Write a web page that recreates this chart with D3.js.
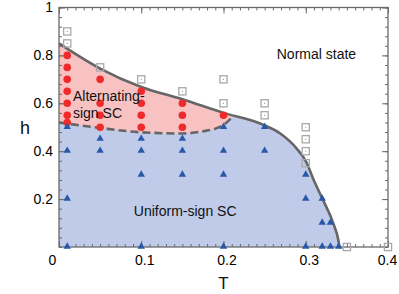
<!DOCTYPE html>
<html>
<head>
<meta charset="utf-8">
<script src="https://cdn.jsdelivr.net/npm/d3@7"></script>
<style>
  body { margin: 0; background: #fff; }
  svg { display: block; font-family: "Liberation Sans", Arial, sans-serif; }
</style>
</head>
<body>
<div id="app"></div>
<script>
`use strict`;

// phase boundaries (T, h)
const outerT = [0, 0.05, 0.1, 0.15, 0.2, 0.248, 0.269, 0.289, 0.301, 0.309, 0.321, 0.3335, 0.3396, 0.341];
const outerH = [0.85, 0.745, 0.668, 0.617, 0.56, 0.511, 0.474, 0.411, 0.352, 0.285, 0.196, 0.099, 0.029, 0];

const dashT = [0, 0.05, 0.1, 0.15, 0.175, 0.19, 0.2, 0.212];
const dashH = [0.52, 0.497, 0.479, 0.474, 0.483, 0.494, 0.51, 0.548];

// simulation points
const alternating = [
  [0.01, 0.8], [0.01, 0.75], [0.01, 0.7], [0.01, 0.65], [0.01, 0.6], [0.01, 0.55], [0.01, 0.52],
  [0.05, 0.7], [0.05, 0.6], [0.05, 0.55], [0.05, 0.5],
  [0.1, 0.65], [0.1, 0.6], [0.1, 0.55], [0.1, 0.5],
  [0.15, 0.6], [0.15, 0.55], [0.15, 0.5],
  [0.2, 0.55]
];

const uniform = [
  [0.01, 0.5], [0.01, 0.4], [0.01, 0.2], [0.01, 0],
  [0.05, 0.45], [0.05, 0.4],
  [0.1, 0.45], [0.1, 0.4], [0.1, 0.3], [0.1, 0],
  [0.15, 0.45], [0.15, 0.4], [0.15, 0.3],
  [0.2, 0.5], [0.2, 0.4], [0.2, 0.3], [0.2, 0],
  [0.25, 0.5], [0.25, 0.4],
  [0.3, 0.3], [0.3, 0.2], [0.3, 0],
  [0.32, 0.2], [0.32, 0.1], [0.32, 0],
  [0.33, 0.1], [0.33, 0],
  [0.34, 0]
];

const normal = [
  [0.01, 0.9], [0.01, 0.85],
  [0.05, 0.75],
  [0.1, 0.7],
  [0.15, 0.65],
  [0.2, 0.7], [0.2, 0.6],
  [0.25, 0.6], [0.25, 0.55],
  [0.3, 0.5], [0.3, 0.45], [0.3, 0.4], [0.3, 0.35],
  [0.35, 0], [0.4, 0]
];

const xTicks = [0, 0.1, 0.2, 0.3, 0.4];
const yTicks = [0.2, 0.4, 0.6, 0.8, 1];

const W = 399, H = 294;
const M = {left: 59, right: 11, top: 7.5, bottom: 47};

let x = d3.scaleLinear().domain([0, 0.4]).range([M.left, W - M.right]);
let y = d3.scaleLinear().domain([0, 1]).range([H - M.bottom, M.top]);

let SVG = d3.select(`#app`).append(`svg`).attr(`width`, W).attr(`height`, H);

let outer = outerT.map((t, i) => [t, outerH[i]]);
let dash = dashT.map((t, i) => [t, dashH[i]]);

let curve = d3.curveMonotoneX;

let scArea = d3.area().x(d => x(d[0])).y0(y(0)).y1(d => y(d[1])).curve(curve);

SVG.append(`clipPath`).attr(`id`, `sc`).append(`path`).attr(`d`, scArea(outer));

// uniform-sign region (whole SC dome)
SVG.append(`path`).attr(`d`, scArea(outer)).attr(`fill`, `#bfcbe8`);

// alternating-sign region: above dashed line, inside dome
SVG.append(`path`)
  .attr(`d`, d3.area().x(d => x(d[0])).y0(y(1)).y1(d => y(d[1])).curve(curve)(dash))
  .attr(`fill`, `#f8c2c3`)
  .attr(`clip-path`, `url(#sc)`);

// axes (ticks point inward on all four sides)
let gAxes = SVG.append(`g`);

let styleAxis = g => {
  g.select(`.domain`).remove();
  g.selectAll(`line`).attr(`stroke`, `#6a6a6a`).attr(`stroke-width`, 1);
  g.selectAll(`text`).attr(`fill`, `#000`).style(`font-size`, `14px`).style(`font-family`, `"Liberation Sans", Arial, sans-serif`);
};

let xMinor = d3.range(0, 0.4001, 0.01);
let yMinor = d3.range(0, 1.0001, 0.04);

gAxes.append(`g`).attr(`transform`, `translate(0,${y(0)})`)
  .call(d3.axisBottom(x).tickValues(xMinor).tickSize(-3).tickFormat(``)).call(styleAxis);
gAxes.append(`g`).attr(`transform`, `translate(0,${y(1)})`)
  .call(d3.axisTop(x).tickValues(xMinor).tickSize(-3).tickFormat(``)).call(styleAxis);
gAxes.append(`g`).attr(`transform`, `translate(${x(0)},0)`)
  .call(d3.axisLeft(y).tickValues(yMinor).tickSize(-3).tickFormat(``)).call(styleAxis);
gAxes.append(`g`).attr(`transform`, `translate(${x(0.4)},0)`)
  .call(d3.axisRight(y).tickValues(yMinor).tickSize(-3).tickFormat(``)).call(styleAxis);

let xAxis = gAxes.append(`g`).attr(`transform`, `translate(0,${y(0)})`)
  .call(d3.axisBottom(x).tickValues(xTicks).tickSize(-6).tickPadding(8).tickFormat(d3.format(`~g`))).call(styleAxis);
xAxis.selectAll(`text`).attr(`dx`, d => d === 0 ? -7 : (d === 0.4 ? -1 : 3));

gAxes.append(`g`).attr(`transform`, `translate(0,${y(1)})`)
  .call(d3.axisTop(x).tickValues(xTicks).tickSize(-6).tickFormat(``)).call(styleAxis);

gAxes.append(`g`).attr(`transform`, `translate(${x(0)},0)`)
  .call(d3.axisLeft(y).tickValues(yTicks).tickSize(-6).tickPadding(6).tickFormat(d3.format(`~g`))).call(styleAxis);
gAxes.append(`g`).attr(`transform`, `translate(${x(0.4)},0)`)
  .call(d3.axisRight(y).tickValues(yTicks).tickSize(-6).tickFormat(``)).call(styleAxis);

SVG.append(`rect`)
  .attr(`x`, x(0)).attr(`y`, y(1)).attr(`width`, x(0.4) - x(0)).attr(`height`, y(0) - y(1))
  .attr(`fill`, `none`).attr(`stroke`, `#6a6a6a`).attr(`stroke-width`, 1.3);

// boundaries
let line = d3.line().x(d => x(d[0])).y(d => y(d[1])).curve(curve);

SVG.append(`path`).attr(`d`, line(dash)).attr(`fill`, `none`)
  .attr(`stroke`, `#666`).attr(`stroke-width`, 2.6).attr(`stroke-dasharray`, `8,4`);

SVG.append(`path`).attr(`d`, line(outer)).attr(`fill`, `none`)
  .attr(`stroke`, `#666`).attr(`stroke-width`, 2.6);

// points
SVG.append(`g`).selectAll(`g`).data(normal).enter().append(`g`)
  .attr(`transform`, d => `translate(${x(d[0])},${y(d[1])})`)
  .each(function () {
    let g = d3.select(this);
    g.append(`rect`).attr(`x`, -3.6).attr(`y`, -3.6).attr(`width`, 7.2).attr(`height`, 7.2)
      .attr(`fill`, `none`).attr(`stroke`, `#a8a8a8`).attr(`stroke-width`, 1.3);
    g.append(`rect`).attr(`x`, -0.5).attr(`y`, -0.5).attr(`width`, 1).attr(`height`, 1).attr(`fill`, `#888`);
  });

SVG.append(`g`).selectAll(`circle`).data(alternating).enter().append(`circle`)
  .attr(`cx`, d => x(d[0])).attr(`cy`, d => y(d[1])).attr(`r`, 3.8).attr(`fill`, `#ee2a2a`);

SVG.append(`g`).selectAll(`path`).data(uniform).enter().append(`path`)
  .attr(`d`, d3.symbol().type(d3.symbolTriangle).size(24))
  .attr(`transform`, d => `translate(${x(d[0])},${y(d[1]) - 0.5})`)
  .attr(`fill`, `#2a58a8`);

// labels
let label = (tx, ty, str, size, anchor) => SVG.append(`text`)
  .attr(`x`, tx).attr(`y`, ty).attr(`text-anchor`, anchor || `start`)
  .style(`font-size`, `${size}px`).attr(`fill`, `#111`).text(str);

label(x(0.313), y(0.783), `Normal state`, 14, `middle`);
label(x(0.017), y(0.608), `Alternating-`, 14);
label(x(0.017), y(0.537), `sign SC`, 14);
label(x(0.091), y(0.129), `Uniform-sign SC`, 14);

label(x(0.2), 289, `T`, 17, `middle`);
label(25, y(0.47), `h`, 18, `middle`);
</script>
</body>
</html>
